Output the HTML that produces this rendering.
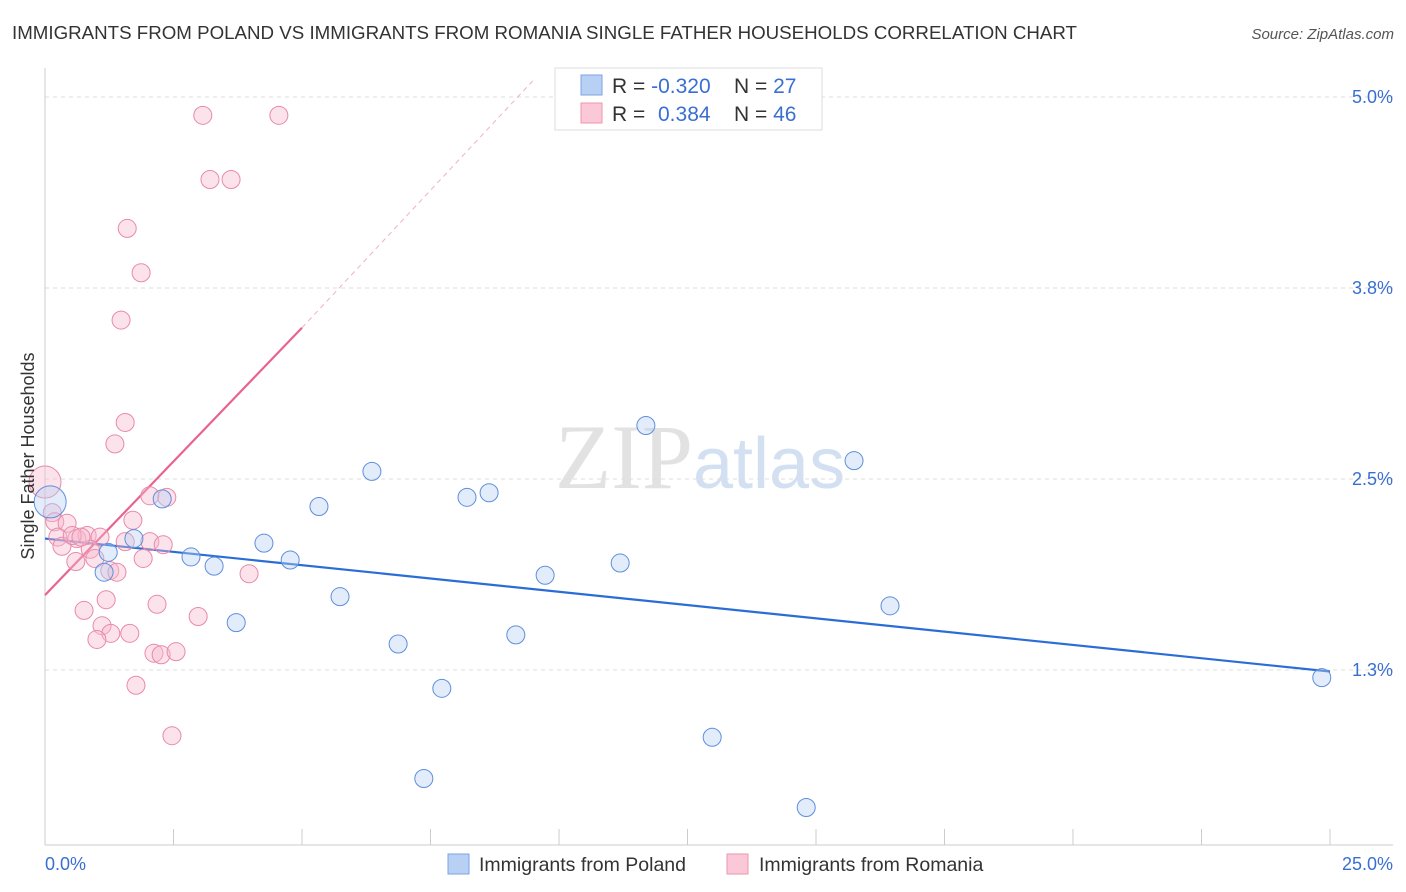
<!DOCTYPE html>
<html><head><meta charset="utf-8"><style>
body{margin:0;background:#fff;font-family:"Liberation Sans",sans-serif;}
svg{display:block}
</style></head><body>
<svg id="chart" width="1406" height="892" xmlns="http://www.w3.org/2000/svg">
<text x="12" y="39" font-size="18.5" fill="#333" textLength="1065" lengthAdjust="spacingAndGlyphs">IMMIGRANTS FROM POLAND VS IMMIGRANTS FROM ROMANIA SINGLE FATHER HOUSEHOLDS CORRELATION CHART</text>
<text x="1394" y="39" font-size="15" fill="#555" font-style="italic" text-anchor="end">Source: ZipAtlas.com</text>
<text x="555" y="488" font-size="92" fill="#e2e2e2" font-family="Liberation Serif, serif">ZIP<tspan fill="#d3e0f2" font-family="Liberation Sans, sans-serif" font-size="72">atlas</tspan></text>
<g id="grid"></g><g id="axes"></g><g id="lines"></g><g id="pts"></g>
<text transform="translate(34,456) rotate(-90)" font-size="18" fill="#333" text-anchor="middle">Single Father Households</text>
<g>
<rect x="555" y="68" width="267" height="62" fill="#fff" stroke="#ddd"/>
<rect x="581" y="75" width="21" height="20" fill="#b7d0f3" stroke="#7ba6e6"/>
<text x="612" y="93" font-size="21" fill="#333">R = <tspan fill="#3a6fd1">-0.320</tspan></text>
<text x="734" y="93" font-size="21" fill="#333">N = <tspan fill="#3a6fd1">27</tspan></text>
<rect x="581" y="103" width="21" height="20" fill="#fbc8d8" stroke="#ef93b2"/>
<text x="612" y="121" font-size="21" fill="#333">R = <tspan fill="#3a6fd1" x="658">0.384</tspan></text>
<text x="734" y="121" font-size="21" fill="#333">N = <tspan fill="#3a6fd1">46</tspan></text>
</g>
<g>
<rect x="448" y="854" width="21" height="20" fill="#b7d0f3" stroke="#7ba6e6"/>
<text x="479" y="871" font-size="19.5" fill="#333">Immigrants from Poland</text>
<rect x="727" y="854" width="21" height="20" fill="#fbc8d8" stroke="#ef93b2"/>
<text x="759" y="871" font-size="19.5" fill="#333">Immigrants from Romania</text>
</g>
</svg>
<script>
const yTicks=[5.0,3.75,2.5,1.25];
const yTickLabels=["5.0%","3.8%","2.5%","1.3%"];
const xTickLabels=["0.0%","25.0%"];
const polandX=[0.1,2.28,1.73,1.23,1.15,2.84,3.29,3.72,4.26,4.77,5.33,5.74,6.36,6.87,7.37,7.72,8.21,8.64,9.16,9.73,11.19,11.69,12.98,14.81,15.74,16.44,24.84];
const polandY=[2.35,2.37,2.11,2.02,1.89,1.99,1.93,1.56,2.08,1.97,2.32,1.73,2.55,1.42,0.54,1.13,2.38,2.41,1.48,1.87,1.95,2.85,0.81,0.35,2.62,1.67,1.20];
const romaniaX=[0,3.07,4.55,3.21,3.62,1.6,1.87,1.48,1.56,1.36,2.04,2.37,0.14,0.19,0.43,0.25,0.33,0.62,0.82,1.07,1.56,1.71,2.04,2.3,0.88,0.97,0.6,1.26,1.4,1.91,3.97,1.19,0.76,2.18,2.98,1.11,1.28,1.65,1.01,2.12,2.26,2.55,1.77,2.47,0.53,0.7];
const romaniaY=[2.48,4.88,4.88,4.46,4.46,4.14,3.85,3.54,2.87,2.73,2.39,2.38,2.28,2.22,2.21,2.12,2.06,2.11,2.13,2.12,2.09,2.23,2.09,2.07,2.04,1.98,1.96,1.90,1.89,1.98,1.88,1.71,1.64,1.68,1.60,1.54,1.49,1.49,1.45,1.36,1.35,1.37,1.15,0.82,2.13,2.12];
const polandTrend=[[0,2.11],[25,1.24]];
const romaniaTrend=[[0,1.74],[5,3.49]];
const romaniaTrendExt=[[5,3.49],[9.53,5.12]];
const NS="http://www.w3.org/2000/svg";
const X=v=>45+v*51.4, Y=v=>97+(5-v)*152.8;
function mk(tag,attrs,parent){const e=document.createElementNS(NS,tag);for(const k in attrs)e.setAttribute(k,attrs[k]);document.getElementById(parent).appendChild(e);return e;}
yTicks.forEach((t,i)=>{
 const l=mk('line',{x1:45,x2:1393,y1:Y(t),y2:Y(t),stroke:'#ddd','stroke-dasharray':'4,4'},'grid');
 
 
 const tx=mk('text',{x:1393,y:Y(t)+6,'font-size':18,fill:'#3a6fd1','text-anchor':'end'},'grid');
 tx.textContent=yTickLabels[i];
 
 
});
const ax=mk('line',{x1:45,x2:1393,y1:845,y2:845,stroke:'#ccc'},'axes');


const ay=mk('line',{x1:45,x2:45,y1:68,y2:845,stroke:'#ccc'},'axes');


for(let i=0;i<=10;i++){const t=mk('line',{x1:X(i*2.5),x2:X(i*2.5),y1:829,y2:845,stroke:'#ccc'},'axes');
 
 }
[[0,'start'],[25,'end']].forEach((p,i)=>{const t=mk('text',{x:i?1393:45,y:870,'font-size':18,fill:'#3a6fd1','text-anchor':p[1]},'axes');t.textContent=xTickLabels[i];
 
 });
function line(d,c,w,dash,name){const a={x1:X(d[0][0]),y1:Y(d[0][1]),x2:X(d[1][0]),y2:Y(d[1][1]),stroke:c,'stroke-width':w};if(dash)a['stroke-dasharray']=dash;const l=mk('line',a,'lines');
 
 }
line(romaniaTrendExt,'#f0b0c6',1,'5,4','romania-trend-extension');
line(polandTrend,'#2a6dd6',2.2,null,'poland-trend-line');
line(romaniaTrend,'#e8648f',2.2,null,'romania-trend-line');
function pts(xs,ys,fill,stroke,name){xs.forEach((v,i)=>{const r=i===0?16:9;const c=mk('circle',{cx:X(v),cy:Y(ys[i]),r:r,fill:fill,'fill-opacity':0.4,stroke:stroke,'stroke-width':1},'pts');
 
 });}
pts(romaniaX,romaniaY,'#f8b8cc','#e88aa9','romania-point');
pts(polandX,polandY,'#b7d0f3','#5e8fdc','poland-point');
</script>
</body></html>
